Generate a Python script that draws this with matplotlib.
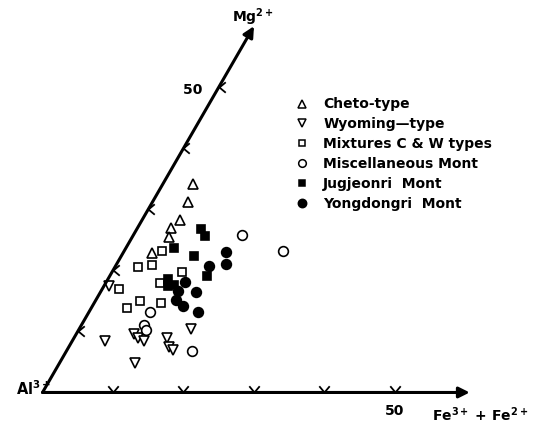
import numpy as np
import matplotlib
matplotlib.use('Agg')
import matplotlib.pyplot as plt
from matplotlib.lines import Line2D

# ternary-style values: Fe3+ + Fe2+ (horizontal) and Mg2+ (oblique), in %
cheto_fe = [4.2, 5.1, 5.4, 4.7, 5.2, 4.1]
cheto_mg = [34.2, 31.2, 28.2, 27.0, 25.5, 22.8]

wyoming_fe = [0.7, 4.6, 8.2, 9.0, 10.1, 10.6, 13.2, 14.2, 15.1, 15.8]
wyoming_mg = [17.4, 8.4, 9.5, 9.0, 8.5, 4.9, 8.9, 7.4, 6.9, 10.4]

mixed_fe = [2.3, 3.2, 5.1, 5.3, 10.0, 7.6, 6.3, 5.0, 9.4]
mixed_mg = [17.0, 20.6, 20.8, 23.2, 19.7, 18.0, 15.0, 13.9, 14.7]

misc_fe = [15.4, 22.5, 8.7, 8.8, 9.6, 17.8]
misc_mg = [25.8, 23.1, 13.1, 11.1, 10.2, 6.8]

jug_fe = [9.2, 10.2, 6.8, 10.3, 13.8, 8.5, 9.1, 9.9]
jug_mg = [26.7, 25.7, 23.6, 22.3, 19.1, 18.6, 17.4, 17.6]

yong_fe = [14.6, 15.5, 13.2, 13.5, 15.5, 11.1, 10.8, 11.3, 12.9]
yong_mg = [23.0, 21.0, 20.7, 16.5, 13.1, 18.1, 16.7, 15.2, 14.1]

tick_values = [10, 20, 30, 40, 50]
labels = ['Cheto-type', 'Wyoming\u2014type', 'Mixtures C & W types',
          'Miscellaneous Mont', 'Jugjeonri  Mont', 'Yongdongri  Mont']

plt.rcParams['mathtext.default'] = 'bf'


def to_xy(fe, mg):
    fe = np.asarray(fe, dtype=float)
    mg = np.asarray(mg, dtype=float)
    return fe + 0.5 * mg, mg * np.sqrt(3) / 2


fig = plt.figure(figsize=(5.39, 4.23), dpi=100)
ax = fig.add_axes([0, 0, 1, 1])
ax.set_xlim(-6.03, 70.43)
ax.set_ylim(-4.33, 55.67)
ax.axis('off')

# axes with arrows
arrow = dict(arrowstyle='-|>', lw=2.2, color='k', mutation_scale=16,
             shrinkA=0, shrinkB=0)
ax.annotate('', xy=to_xy(60.6, 0), xytext=(0, 0), arrowprops=arrow)
ax.annotate('', xy=to_xy(0, 60), xytext=(0, 0), arrowprops=arrow)

# tick marks (little chevrons)
v_mark = [(-1, 1.2), (0, 0), (1, 1.2)]
lt_mark = [(1.2, 1), (0, 0), (1.2, -1)]
tx, ty = to_xy(tick_values, np.zeros(len(tick_values)))
ax.plot(tx, ty, ls='none', marker=v_mark, ms=9, mew=1.3, mfc='none', color='k')
tx, ty = to_xy(np.zeros(len(tick_values)), tick_values)
ax.plot(tx, ty, ls='none', marker=lt_mark, ms=9, mew=1.3, mfc='none', color='k')

# data points
ms = 6.5
mw = 1.2
ax.plot(*to_xy(cheto_fe, cheto_mg), ls='none', marker='^', ms=ms, mew=mw,
        mfc='white', mec='k')
ax.plot(*to_xy(wyoming_fe, wyoming_mg), ls='none', marker='v', ms=ms, mew=mw,
        mfc='white', mec='k')
ax.plot(*to_xy(mixed_fe, mixed_mg), ls='none', marker='s', ms=ms - 0.5, mew=mw,
        mfc='white', mec='k')
ax.plot(*to_xy(misc_fe, misc_mg), ls='none', marker='o', ms=ms + 0.5, mew=mw,
        mfc='white', mec='k')
ax.plot(*to_xy(jug_fe, jug_mg), ls='none', marker='s', ms=ms - 0.5, mew=mw,
        mfc='k', mec='k')
ax.plot(*to_xy(yong_fe, yong_mg), ls='none', marker='o', ms=ms + 0.5, mew=mw,
        mfc='k', mec='k')

# text labels
ax.text(*to_xy(0, 49.5), '50   ', ha='right', va='center', fontsize=10,
        fontweight='bold')
ax.text(*to_xy(51.5, -3), '50', ha='center', va='center', fontsize=10,
        fontweight='bold')
ax.text(*to_xy(0.9, 0.6), r'Al$^{3+}$', ha='right', va='center', fontsize=10.5,
        fontweight='bold')
ax.text(*to_xy(-0.5, 60.7), r'Mg$^{2+}$', ha='center', va='baseline', fontsize=10,
        fontweight='bold')
ax.text(*to_xy(57.1, -3.6), r'Fe$^{3+}$ + Fe$^{2+}$', ha='left', va='center',
        fontsize=10, fontweight='bold')

# legend
handles = [
    Line2D([], [], ls='none', marker='^', ms=5.5, mew=1.1, mfc='white', mec='k'),
    Line2D([], [], ls='none', marker='v', ms=5.5, mew=1.1, mfc='white', mec='k'),
    Line2D([], [], ls='none', marker='s', ms=5, mew=1.1, mfc='white', mec='k'),
    Line2D([], [], ls='none', marker='o', ms=5.5, mew=1.1, mfc='white', mec='k'),
    Line2D([], [], ls='none', marker='s', ms=5, mew=1.1, mfc='k', mec='k'),
    Line2D([], [], ls='none', marker='o', ms=6, mew=1.1, mfc='k', mec='k'),
]
ax.legend(handles, labels, loc='upper left', bbox_to_anchor=(0.535, 0.786),
          frameon=False, handlelength=1.0, handletextpad=1.0, labelspacing=0.42,
          borderpad=0, prop={'size': 10, 'weight': 'bold'})

fig.savefig('out.png', dpi=100)
